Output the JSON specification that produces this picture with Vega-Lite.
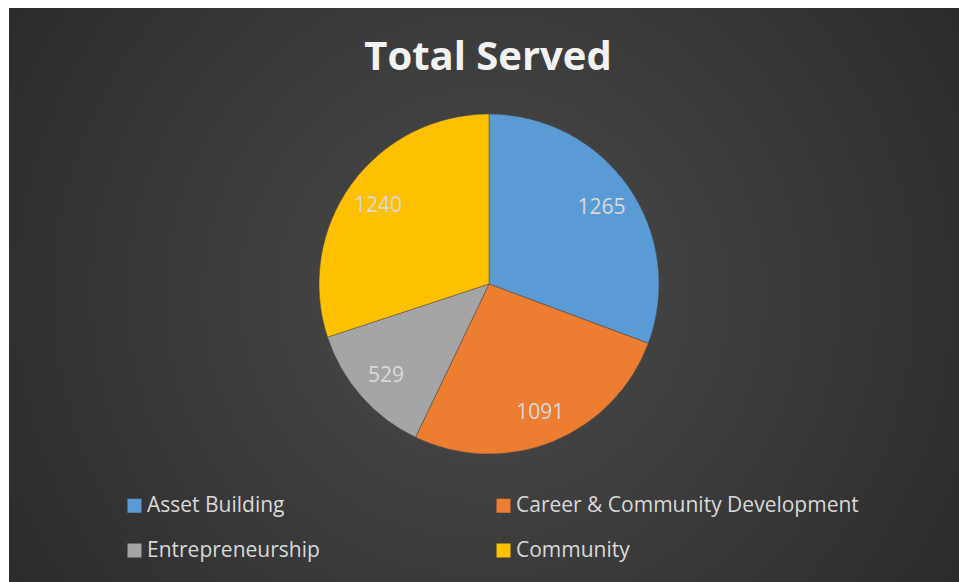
{
  "$schema": "https://vega.github.io/schema/vega-lite/v6.json",
  "autosize": {"type": "none"},
  "width": 950,
  "height": 574,
  "padding": {"left": 9, "top": 8, "right": 0, "bottom": 0},
  "background": "#ffffff",
  "config": {
    "view": {"stroke": null},
    "font": "Open Sans"
  },
  "title": {
    "text": "Total Served",
    "orient": "top",
    "anchor": "middle",
    "offset": -70,
    "dx": 4,
    "fontSize": 40,
    "fontWeight": "bold",
    "font": "Open Sans",
    "color": "#f2f2f2"
  },
  "data": {
    "values": [
      {"category": "Asset Building", "served": 1265, "rank": 1},
      {"category": "Career & Community Development", "served": 1091, "rank": 2},
      {"category": "Entrepreneurship", "served": 529, "rank": 3},
      {"category": "Community", "served": 1240, "rank": 4}
    ]
  },
  "layer": [
    {
      "data": {"values": [{"bg": 1}]},
      "mark": {
        "type": "rect",
        "color": {
          "gradient": "radial",
          "x1": 0.5, "y1": 0.5, "r1": 0,
          "x2": 0.5, "y2": 0.5, "r2": 0.72,
          "stops": [
            {"offset": 0, "color": "#4b4b4b"},
            {"offset": 1, "color": "#242424"}
          ]
        }
      },
      "encoding": {
        "x": {"value": 0},
        "x2": {"value": "width"},
        "y": {"value": 0},
        "y2": {"value": "height"}
      }
    },
    {
      "mark": {"type": "arc", "outerRadius": 170, "x": {"expr": "width/2+5"}, "y": {"expr": "height/2-11"}, "stroke": "#4a4a4a", "strokeWidth": 0.5},
      "encoding": {
        "theta": {"field": "served", "type": "quantitative", "stack": true},
        "order": {"field": "rank", "type": "quantitative"},
        "color": {
          "field": "category",
          "type": "nominal",
          "scale": {
            "domain": ["Asset Building", "Entrepreneurship", "Career & Community Development", "Community"],
            "range": ["#5b9bd5", "#a5a5a5", "#ed7d31", "#ffc000"]
          },
          "legend": {
            "title": null,
            "orient": "none",
            "legendX": 115,
            "legendY": 487,
            "columns": 2,
            "columnPadding": 173,
            "rowPadding": 23,
            "symbolType": "square",
            "symbolSize": 196,
            "symbolStrokeWidth": 0,
            "symbolOpacity": 1,
            "labelFontSize": 21,
            "labelFont": "Open Sans",
            "labelColor": "#d9d9d9",
            "labelOffset": 2,
            "labelLimit": 500
          }
        }
      }
    },
    {
      "mark": {"type": "text", "radius": 137, "x": {"expr": "width/2+5"}, "y": {"expr": "height/2-9"}, "fontSize": 21, "font": "Open Sans"},
      "encoding": {
        "theta": {"field": "served", "type": "quantitative", "stack": true},
        "order": {"field": "rank", "type": "quantitative"},
        "text": {"field": "served", "type": "quantitative"},
        "color": {"value": "#d9d9d9"}
      }
    }
  ]
}
